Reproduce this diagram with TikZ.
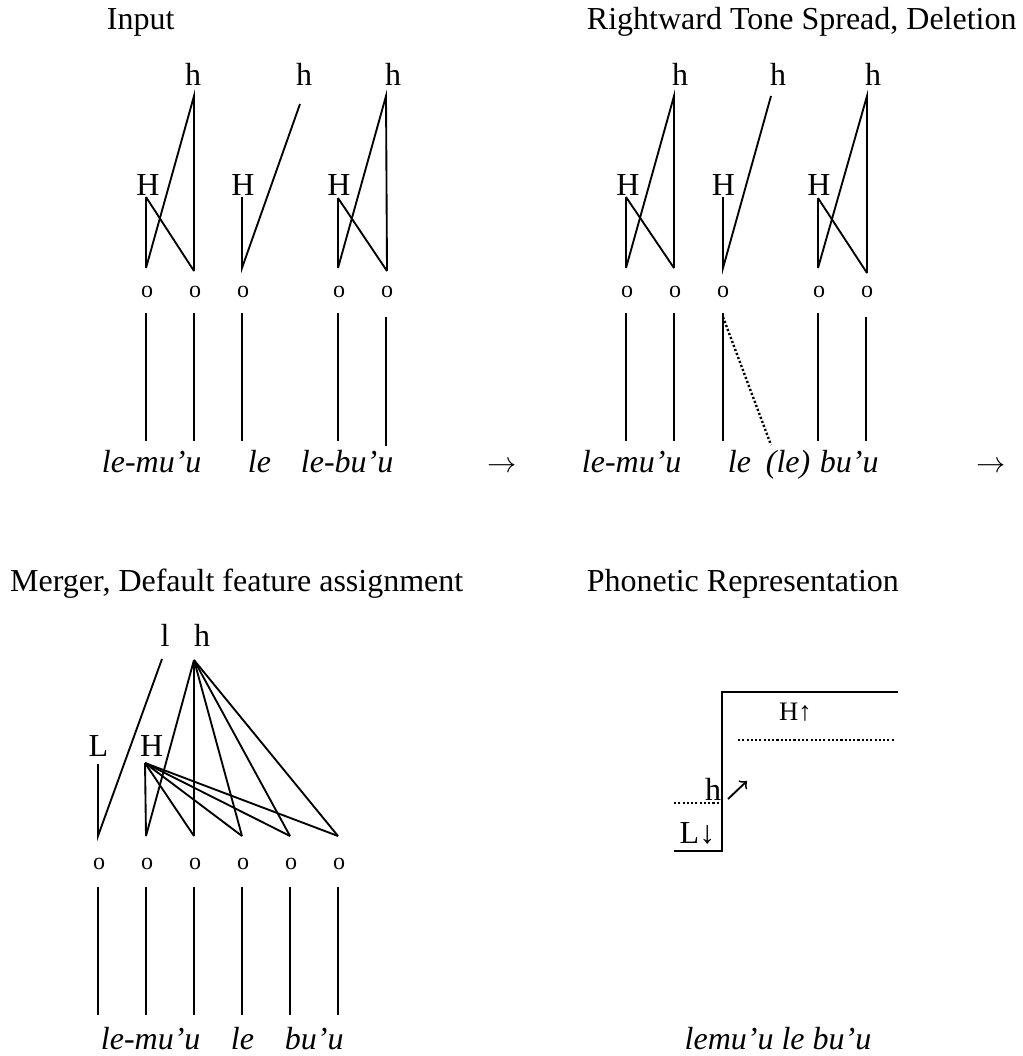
\documentclass[tikz,border=0pt]{standalone}
\usepackage{fontspec}
\setmainfont{Liberation Serif}

\begin{document}
\begin{tikzpicture}[x=0.375pt,y=-0.375pt,line width=0.7pt,
  font=\fontsize{12}{14}\selectfont,
  title/.style={anchor=base west,inner sep=0pt},
  tone/.style={anchor=base,inner sep=0pt},
  seg/.style={anchor=base,inner sep=0pt,font=\fontsize{9}{10}\selectfont},
  gloss/.style={anchor=base west,inner sep=0pt,font=\fontsize{12}{14}\selectfont\itshape},
  rulearr/.style={anchor=base west,inner sep=0pt,font=\fontsize{10.5}{12}\selectfont},
  dotline/.style={line width=0.9pt,dash pattern=on 0.8pt off 0.8pt}]
\useasboundingbox (0,0) rectangle (1022,1056);

%------------------------------------- Input
\node[title] (ttlA) at (106,30) {Input};
\node[tone] (ah1) at (193,86) {h};
\node[tone] (ah2) at (304,86) {h};
\node[tone] (ah3) at (393,86) {h};
\node[tone] (aH1) at (148,195) {H};
\node[tone] (aH2) at (243,195) {H};
\node[tone] (aH3) at (339,195) {H};
\coordinate (aht1) at (194,96);
\coordinate (aht2) at (300,104);
\coordinate (aht3) at (386,96);
\coordinate (aHb1) at (146,197);
\coordinate (aHb2) at (242,197);
\coordinate (aHb3) at (338,198);
\coordinate (ap1) at (146,268);
\coordinate (ap2) at (194,271);
\coordinate (ap3) at (242,268);
\coordinate (ap4) at (338,268);
\coordinate (ap5) at (387,271);
\draw (aHb1) -- (ap1);
\draw (aHb1) -- (ap2);
\draw (ap1) -- (aht1) -- (ap2);
\draw (aHb2) -- (ap3) -- (aht2);
\draw (aHb3) -- (ap4);
\draw (aHb3) -- (ap5);
\draw (ap4) -- (aht3) -- (ap5);

\node[seg] (ao1) at (147,297) {o};
\node[seg] (ao2) at (195,297) {o};
\node[seg] (ao3) at (243,297) {o};
\node[seg] (ao4) at (339,297) {o};
\node[seg] (ao5) at (387,297) {o};
\coordinate (au1) at (146,313); \coordinate (ad1) at (146,441);
\coordinate (au2) at (194,313); \coordinate (ad2) at (194,441);
\coordinate (au3) at (242,313); \coordinate (ad3) at (242,441);
\coordinate (au4) at (338,313); \coordinate (ad4) at (338,441);
\coordinate (au5) at (386,317); \coordinate (ad5) at (386,446);
\draw (au1) -- (ad1);
\draw (au2) -- (ad2);
\draw (au3) -- (ad3);
\draw (au4) -- (ad4);
\draw (au5) -- (ad5);
\node[gloss] (agl1) at (101,472) {le-mu’u};
\node[gloss] (agl2) at (247,472) {le};
\node[gloss] (agl3) at (300,472) {le-bu’u};
\node[rulearr] (arrA) at (487,472) {$\rightarrow$};

%------------------------------------- Spread, deletion
\node[title] (ttlB) at (586,29.3) {Rightward Tone Spread, Deletion};
\node[tone] (bh1) at (680,86) {h};
\node[tone] (bh2) at (778,86) {h};
\node[tone] (bh3) at (873,86) {h};
\node[tone] (bH1) at (628,195) {H};
\node[tone] (bH2) at (723.5,195) {H};
\node[tone] (bH3) at (819,195) {H};
\coordinate (bht1) at (674,96);
\coordinate (bht2) at (771,96);
\coordinate (bht3) at (867,96);
\coordinate (bHb1) at (626,197);
\coordinate (bHb2) at (723,197);
\coordinate (bHb3) at (818,198);
\coordinate (bp1) at (626,268);
\coordinate (bp2) at (674,268);
\coordinate (bp3) at (723,268);
\coordinate (bp4) at (818,268);
\coordinate (bp5) at (867,273);
\draw (bHb1) -- (bp1);
\draw (bHb1) -- (bp2);
\draw (bp1) -- (bht1) -- (bp2);
\draw (bHb2) -- (bp3) -- (bht2);
\draw (bHb3) -- (bp4);
\draw (bHb3) -- (bp5);
\draw (bp4) -- (bht3) -- (bp5);

\node[seg] (bo1) at (627,297) {o};
\node[seg] (bo2) at (675,297) {o};
\node[seg] (bo3) at (723,297) {o};
\node[seg] (bo4) at (819,297) {o};
\node[seg] (bo5) at (867,297) {o};
\coordinate (bu1) at (626,313); \coordinate (bd1) at (626,441);
\coordinate (bu2) at (674,313); \coordinate (bd2) at (674,441);
\coordinate (bu3) at (723,313); \coordinate (bd3) at (723,441);
\coordinate (bu4) at (818,313); \coordinate (bd4) at (818,441);
\coordinate (bu5) at (866,317); \coordinate (bd5) at (866,441);
\coordinate (bdt) at (723,317);
\coordinate (bdel) at (771,445);
\draw (bu1) -- (bd1);
\draw (bu2) -- (bd2);
\draw (bu3) -- (bd3);
\draw (bu4) -- (bd4);
\draw (bu5) -- (bd5);
\draw[dotline] (bdt) -- (bdel);
\node[gloss] (bgl1) at (581,472) {le-mu’u};
\node[gloss] (bgl2) at (727,472) {le};
\node[gloss] (bgl3) at (765,472) {(le)};
\node[gloss] (bgl4) at (819,472) {bu’u};
\node[rulearr] (arrB) at (976,472) {$\rightarrow$};

%------------------------------------- Merger
\node[title] (ttlC) at (9.3,591.7) {Merger, Default feature assignment};
\node[tone] (cl) at (165,646.7) {l};
\node[tone] (ch) at (202,646.7) {h};
\node[tone] (cL) at (98.3,756.7) {L};
\node[tone] (cH) at (151.7,756.7) {H};
\coordinate (clt) at (162,659);
\coordinate (cht) at (194,660);
\coordinate (cLb) at (98,764);
\coordinate (cHb) at (145,763);
\coordinate (cp1) at (98,836);
\coordinate (cp2) at (146,836);
\coordinate (cp3) at (194,836);
\coordinate (cp4) at (242,836);
\coordinate (cp5) at (290,836);
\coordinate (cp6) at (338,836);
\draw (cLb) -- (cp1) -- (clt);
\draw (cHb) -- (cp2);
\draw (cHb) -- (cp3);
\draw (cHb) -- (cp4);
\draw (cHb) -- (cp5);
\draw (cHb) -- (cp6);
\draw (cht) -- (cp2);
\draw (cht) -- (cp3);
\draw (cht) -- (cp4);
\draw (cht) -- (cp5);
\draw (cht) -- (cp6);

\node[seg] (co1) at (99,869) {o};
\node[seg] (co2) at (147,869) {o};
\node[seg] (co3) at (195,869) {o};
\node[seg] (co4) at (243,869) {o};
\node[seg] (co5) at (291,869) {o};
\node[seg] (co6) at (339,869) {o};
\coordinate (cu1) at (98,887); \coordinate (cd1) at (98,1015);
\coordinate (cu2) at (146,887); \coordinate (cd2) at (146,1015);
\coordinate (cu3) at (194,887); \coordinate (cd3) at (194,1015);
\coordinate (cu4) at (242,887); \coordinate (cd4) at (242,1015);
\coordinate (cu5) at (290,887); \coordinate (cd5) at (290,1015);
\coordinate (cu6) at (338,887); \coordinate (cd6) at (338,1015);
\draw (cu1) -- (cd1);
\draw (cu2) -- (cd2);
\draw (cu3) -- (cd3);
\draw (cu4) -- (cd4);
\draw (cu5) -- (cd5);
\draw (cu6) -- (cd6);
\node[gloss] (cgl1) at (100,1049) {le-mu’u};
\node[gloss] (cgl2) at (230,1049) {le};
\node[gloss] (cgl3) at (284,1049) {bu’u};

%------------------------------------- Phonetic
\node[title] (ttlD) at (586,591.7) {Phonetic Representation};
\coordinate (dlo) at (674,851);
\coordinate (dstepb) at (722,851);
\coordinate (dstept) at (722,692);
\coordinate (dhi) at (898,692);
\draw (dlo) -- (dstepb) -- (dstept) -- (dhi);
\coordinate (dhl) at (738,740);
\coordinate (dhr) at (895,740);
\coordinate (dll) at (674,803);
\coordinate (dlr) at (720,803);
\draw[dotline] (dhl) -- (dhr);
\draw[dotline] (dll) -- (dlr);
\node[tone,font=\fontsize{10}{12}\selectfont] (dH) at (795.5,720) {H↑};
\node[tone] (dh) at (713,800) {h};
\node[tone] (dL) at (697.5,843) {L↓};
\coordinate (darS) at (728,799);
\coordinate (darE) at (747,781);
\draw[->] (darS) -- (darE);
\node[anchor=base,inner sep=0pt,font=\fontsize{12}{14}\selectfont\itshape] (dgl) at (778,1049) {lemu’u le bu’u};

\end{tikzpicture}
\end{document}
